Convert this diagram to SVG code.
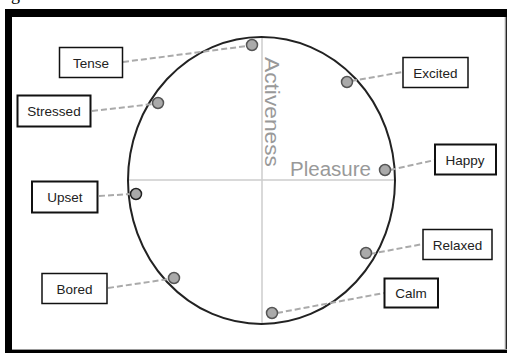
<svg xmlns="http://www.w3.org/2000/svg" width="507" height="353" viewBox="0 0 507 353">
<style>
.box{fill:#fff;stroke:#111;stroke-width:1.5}
.lbl{font-family:"Liberation Sans",Arial,sans-serif;font-size:13.5px;fill:#222;text-anchor:middle}
.dot{fill:#aaa;stroke:#555;stroke-width:1.5}
.con{stroke:#aaa;stroke-width:2;stroke-dasharray:6 3;fill:none}
.axis{stroke:#ccc;stroke-width:1.5}
.axlbl{font-family:"Liberation Sans",Arial,sans-serif;font-size:20px;fill:#999}
</style>
<rect x="0" y="0" width="507" height="353" fill="#fff"/>
<text x="11" y="0" font-family="Liberation Serif,serif" font-size="18" fill="#000">g</text>
<rect x="5" y="9" width="502" height="344" fill="#000"/>
<rect x="12" y="17" width="493" height="333" fill="#fff"/>
<line x1="505.5" y1="17" x2="505.5" y2="350" stroke="#999" stroke-width="1.5"/>
<line x1="12" y1="349.5" x2="507" y2="349.5" stroke="#999" stroke-width="1"/>
<g id="chart">
<line class="axis" x1="262" y1="37" x2="262" y2="324"/>
<line class="axis" x1="129" y1="180" x2="395" y2="180"/>
<ellipse cx="261.5" cy="180.5" rx="133.5" ry="143.5" fill="none" stroke="#222" stroke-width="2"/>
<text class="axlbl" transform="translate(265,57) rotate(90)" textLength="110" lengthAdjust="spacingAndGlyphs">Activeness</text>
<text class="axlbl" x="290" y="176" textLength="81" lengthAdjust="spacingAndGlyphs">Pleasure</text>
</g>
<g id="connectors">
<line class="con" x1="123" y1="62" x2="247" y2="46"/>
<line class="con" x1="92" y1="111" x2="153" y2="104"/>
<line class="con" x1="351" y1="81" x2="403" y2="72"/>
<line class="con" x1="390" y1="170" x2="435" y2="160"/>
<line class="con" x1="99" y1="196" x2="131" y2="194"/>
<line class="con" x1="108" y1="288" x2="169" y2="279"/>
<line class="con" x1="370" y1="254" x2="423" y2="244"/>
<line class="con" x1="277" y1="313" x2="384" y2="293"/>
</g>
<g id="tense"><rect class="box" x="59.5" y="47.5" width="63" height="30"/><text class="lbl" x="91" y="67.5">Tense</text><circle class="dot" cx="252" cy="45" r="5.5"/></g>
<g id="stressed"><rect class="box" x="17.5" y="95.5" width="73" height="31" style="stroke-width:2"/><text class="lbl" x="54" y="116">Stressed</text><circle class="dot" cx="158" cy="103" r="5.5"/></g>
<g id="excited"><rect class="box" x="403" y="57.5" width="65" height="30"/><text class="lbl" x="435.5" y="77.5">Excited</text><circle class="dot" cx="347" cy="82" r="5.5"/></g>
<g id="happy"><rect class="box" x="435" y="144.5" width="61" height="30" style="stroke-width:2"/><text class="lbl" x="465" y="164.5">Happy</text><circle class="dot" cx="385" cy="170" r="5.5"/></g>
<g id="upset"><rect class="box" x="32" y="181.5" width="65.5" height="31" style="stroke-width:2"/><text class="lbl" x="65" y="202">Upset</text><circle class="dot" cx="136" cy="194" r="5.5" style="stroke:#222"/></g>
<g id="bored"><rect class="box" x="42" y="273.5" width="65" height="30"/><text class="lbl" x="74.5" y="293.5">Bored</text><circle class="dot" cx="174" cy="278" r="5.5"/></g>
<g id="relaxed"><rect class="box" x="423" y="229.5" width="69" height="30"/><text class="lbl" x="457.5" y="249.5">Relaxed</text><circle class="dot" cx="366" cy="253" r="5.5"/></g>
<g id="calm"><rect class="box" x="384.5" y="278.5" width="53.5" height="29" style="stroke-width:2"/><text class="lbl" x="411" y="298">Calm</text><circle class="dot" cx="272" cy="313" r="5.5"/></g>
</svg>
